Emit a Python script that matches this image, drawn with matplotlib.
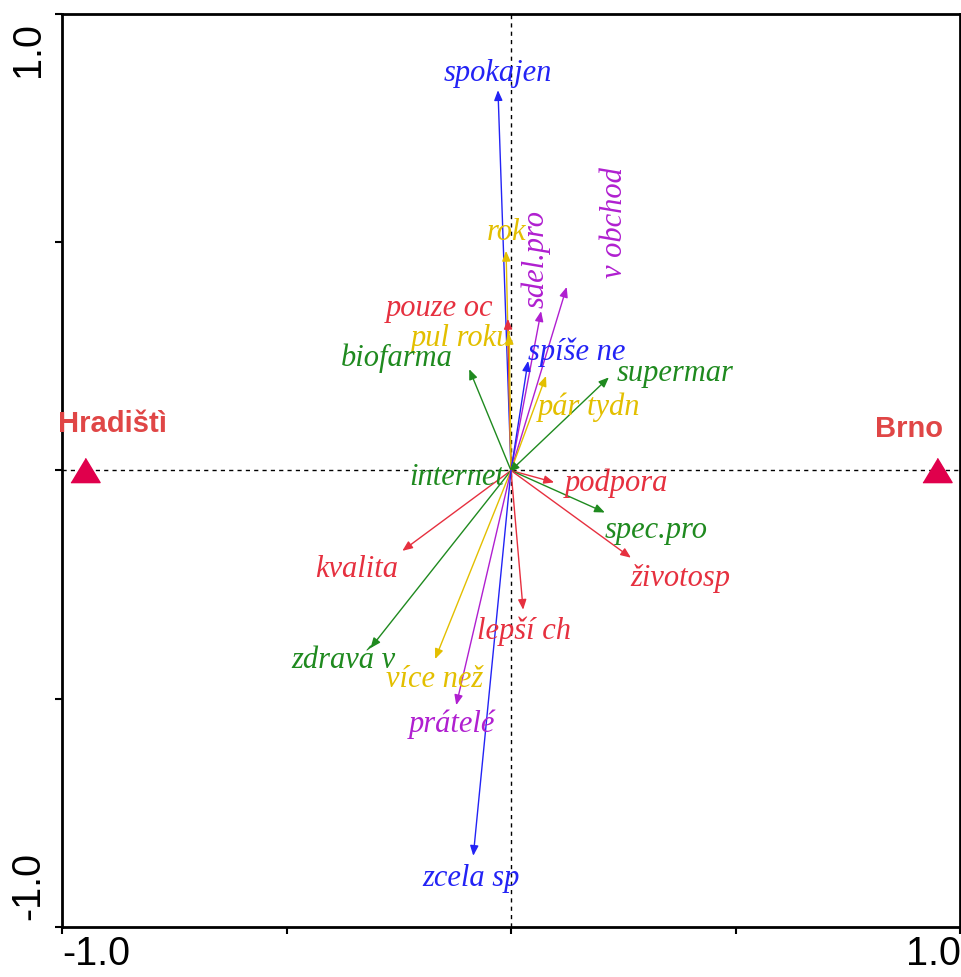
import matplotlib
matplotlib.use("Agg")
import matplotlib.pyplot as plt

# ---- data: species/variable arrows (biplot scores) ----
names = ["spokajen", "rok", "pouze oc", "pul roku", "sdel.pro", "v obchod",
         "spíše ne", "pár tydn", "supermar", "biofarma", "internet", "podpora",
         "spec.pro", "životosp", "kvalita", "lepší ch", "zdravá v", "více než",
         "prátelé", "zcela sp"]
axis1 = [-0.029, -0.011, -0.007, -0.004, 0.067, 0.124,
         0.038, 0.078, 0.218, -0.093, -0.004, 0.096,
         0.209, 0.267, -0.242, 0.027, -0.313, -0.169,
         -0.122, -0.084]
axis2 = [0.833, 0.481, 0.332, 0.299, 0.349, 0.402,
         0.240, 0.207, 0.204, 0.222, -0.004, -0.026,
         -0.092, -0.191, -0.176, -0.305, -0.389, -0.413,
         -0.514, -0.844]

# ---- data: sample sites (centroids) ----
sites = ["Hradištì", "Brno"]
site_axis1 = [-0.948, 0.948]
site_axis2 = [0.0, 0.0]

# ---- styles ----
BLUE = "#2323f5"
RED = "#e6303f"
GREEN = "#1f8a1f"
GOLD = "#e3bf00"
PURPLE = "#b01fd0"
colors = [BLUE, GOLD, RED, GOLD, PURPLE, PURPLE,
          BLUE, GOLD, GREEN, GREEN, GREEN, RED,
          GREEN, RED, RED, RED, GREEN, GOLD,
          PURPLE, BLUE]
site_marker_color = "#e0004c"
site_label_color = "#e04646"

# label offsets from arrow tips (pixels) and rotation
label_offsets = {
    "spokajen": (0, 17), "rok": (0, 18), "pouze oc": (-68, 10),
    "pul roku": (-48, -4), "sdel.pro": (-5, 52), "v obchod": (48, 64),
    "spíše ne": (49, 9), "pár tydn": (43, -31), "supermar": (66, 4),
    "biofarma": (-72, 11), "internet": (-52, -5), "podpora": (62, -1),
    "spec.pro": (51, -18), "životosp": (49, -21), "kvalita": (-46, -19),
    "lepší ch": (1, -22), "zdravá v": (-27, -12), "více než": (0, -20),
    "prátelé": (-4, -19), "zcela sp": (-2, -23),
}
vertical_labels = {"sdel.pro", "v obchod"}
site_offsets = {"Hradištì": (27, 46), "Brno": (-28, 41)}

fig = plt.figure(figsize=(9.61, 9.77), dpi=100)
ax = fig.add_axes([62 / 961, 1 - 927 / 977, (960 - 62) / 961, (927 - 14) / 977])
ax.set_xlim(-1.0, 0.996)
ax.set_ylim(-1.0, 1.0)

# origin cross-hair
ax.axhline(0, color="black", lw=1.0, ls=(0, (3, 3)), zorder=1)
ax.axvline(0, color="black", lw=1.0, ls=(0, (3, 3)), zorder=1)

serif_it = dict(family="Liberation Serif", style="italic", size=22)

for n, x, y, c in zip(names, axis1, axis2, colors):
    ax.annotate("", xy=(x, y), xytext=(0, 0),
                arrowprops=dict(arrowstyle="-|>,head_length=0.6,head_width=0.25",
                                color=c, lw=1.0, shrinkA=0, shrinkB=0,
                                mutation_scale=10),
                zorder=3)
    dx, dy = label_offsets[n]
    ax.annotate(n, xy=(x, y), xytext=(dx, dy), textcoords="offset pixels",
                ha="center", va="center", color=c,
                rotation=90 if n in vertical_labels else 0,
                zorder=4, **serif_it)

# sites
tri = [(-1, -0.83), (1, -0.83), (0, 0.83)]
ax.plot(site_axis1, site_axis2, linestyle="none", marker=tri, markersize=21,
        color=site_marker_color, zorder=5)
for s, x, y in zip(sites, site_axis1, site_axis2):
    dx, dy = site_offsets[s]
    ax.annotate(s, xy=(x, y), xytext=(dx, dy), textcoords="offset pixels",
                ha="center", va="center", color=site_label_color,
                family="Liberation Sans", weight="bold", size=21, zorder=5)

# frame and ticks
for sp in ax.spines.values():
    sp.set_linewidth(2.0)
ticks = [-1.0, -0.5, 0.0, 0.5, 1.0]
ax.set_xticks(ticks)
ax.set_yticks(ticks)
ax.set_xticklabels([])
ax.set_yticklabels([])
ax.tick_params(direction="out", length=5, width=1.5)

axfont = dict(family="Liberation Sans", size=28.5, color="black")
ax.annotate("-1.0", xy=(0, 0), xycoords="axes fraction", xytext=(0, -8),
            textcoords="offset pixels", ha="left", va="top", **axfont)
ax.annotate("1.0", xy=(1, 0), xycoords="axes fraction", xytext=(1, -8),
            textcoords="offset pixels", ha="right", va="top", **axfont)
ax.annotate("-1.0", xy=(0, 0), xycoords="axes fraction", xytext=(-34, 7),
            textcoords="offset pixels", ha="center", va="bottom",
            rotation=90, **axfont)
ax.annotate("1.0", xy=(0, 1), xycoords="axes fraction", xytext=(-34, -8),
            textcoords="offset pixels", ha="center", va="top",
            rotation=90, **axfont)

fig.savefig("out.png", dpi=100)
